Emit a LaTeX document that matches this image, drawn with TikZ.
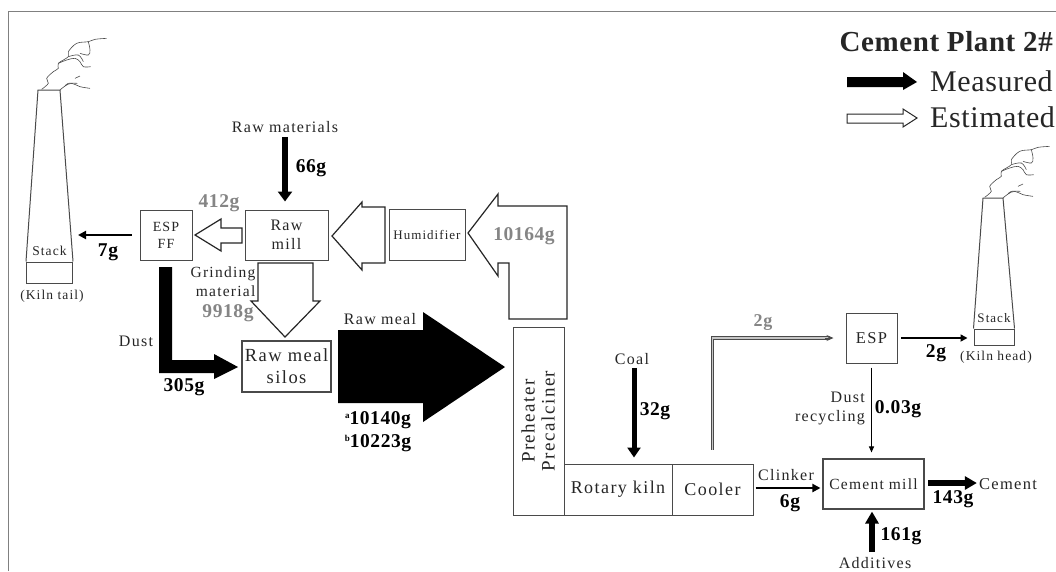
\documentclass[tikz,border=0pt]{standalone}
\usepackage{fontspec}
\usetikzlibrary{arrows.meta}
\setmainfont{Liberation Serif}
\newfontfamily\lblfont[LetterSpace=8]{Liberation Serif}
\newfontfamily\numfont[LetterSpace=3]{Liberation Serif}
\newfontfamily\legfont[LetterSpace=2]{Liberation Serif}
\definecolor{ink}{HTML}{262626}
\definecolor{linegray}{HTML}{4A4A4A}
\definecolor{numgray}{HTML}{858585}
\newcommand{\supmark}[1]{{\fontsize{9}{9}\selectfont\raisebox{6pt}{#1}}}
\tikzset{
  lbl/.style={inner sep=0pt,text=ink,align=center,font=\lblfont\fontsize{#1}{19}\selectfont},
  lbl/.default=16,
  num/.style={inner sep=0pt,text=black,font=\numfont\bfseries\fontsize{19.5}{22}\selectfont},
  grynum/.style={num,text=numgray},
  boxn/.style={draw=linegray,line width=1pt,inner sep=0pt,align=center,text=ink},
  thick arrow/.style={draw=black,line width=#1,-{Triangle[length=10pt,width=14pt]}},
  hollow/.style={draw=ink,fill=white,line width=1.2pt,line join=miter},
  smoke/.style={draw=linegray,line width=.6pt,smooth,tension=.6}
}
\newcommand{\smokepaths}{%
  \draw[smoke] plot coordinates {(-22,-2)(-2,-20)(-7,-35)(13,-55)(28,-65)(28,-80)(58,-100)(58,-115)(83,-140)(118,-145)(138,-152)(173,-155)};
  \draw[smoke] plot coordinates {(33,0)(48,-12)(68,-20)(93,-10)(123,-5)};
  \draw[smoke] plot coordinates {(28,-80)(53,-90)(78,-95)(93,-85)(103,-70)(125,-70)};
  \draw[smoke] plot coordinates {(58,-100)(88,-105)(103,-85)};
  \draw[smoke] plot coordinates {(118,-145)(123,-120)(118,-105)(93,-110)};
  \draw[smoke] plot coordinates {(78,-35)(93,-42)};
  \draw[smoke] plot coordinates {(48,-12)(58,-20)(85,-20)};
}
\begin{document}
\begin{tikzpicture}[x=1pt,y=-1pt]
\useasboundingbox (0,0) rectangle (1056,571);
\fill[white] (0,0) rectangle (1056,571);
\draw[gray,line width=.8pt] (8.5,571) -- (8.5,11.5) -- (1056,11.5);

% left stack
\node[boxn,minimum width=46pt,minimum height=21pt] (stackbaseL) at (49.5,272.5) {};
\draw[draw=linegray,line width=1pt] (stackbaseL.north west) -- (38,90) -- (60,90) -- (stackbaseL.north east);
\node[lbl=13.5] (stackL) at (49.5,251) {Stack};
\node[lbl=13.5] (kilntail) at (52,296) {(Kiln tail)};
\begin{scope}[shift={(49,90)},x=.3333pt,y=-.3333pt]\smokepaths\end{scope}

% right stack
\node[boxn,minimum width=40pt,minimum height=16pt] (stackbaseR) at (994,337) {};
\draw[draw=linegray,line width=1pt] (stackbaseR.north west) -- (983,198) -- (1003,198) -- (stackbaseR.north east);
\node[lbl=13] (stackR) at (994,318) {Stack};
\node[lbl=13.5] (kilnhead) at (996,357) {(Kiln head)};
\begin{scope}[shift={(992,198)},x=.3333pt,y=-.3333pt]\smokepaths\end{scope}

% boxes
\node[boxn,minimum width=52pt,minimum height=50pt,font=\lblfont\fontsize{14}{17}\selectfont] (espff) at (166,235) {ESP\\FF};
\node[boxn,minimum width=83pt,minimum height=50pt,font=\lblfont\fontsize{16}{18.5}\selectfont] (rawmill) at (286.5,235) {Raw\\mill};
\node[boxn,minimum width=76pt,minimum height=51pt,font=\lblfont\fontsize{13}{14}\selectfont] (humid) at (427,234.5) {Humidifier};
\node[boxn,line width=1.4pt,minimum width=89pt,minimum height=51pt,font=\lblfont\fontsize{18.5}{22}\selectfont] (silos) at (286.5,366.5) {Raw meal\\silos};
\node[boxn,minimum width=51pt,minimum height=188pt] (preheat) at (538.5,421) {};
\node[rotate=90,inner sep=0pt,align=center,text=ink,font=\lblfont\fontsize{19}{20}\selectfont] (preheattext) at (538,421) {Preheater\\Precalciner};
\node[boxn,minimum width=108pt,minimum height=51pt,font=\lblfont\fontsize{18}{20}\selectfont] (kiln) at (618,489.5) {Rotary kiln};
\node[boxn,minimum width=81pt,minimum height=51pt,font=\lblfont\fontsize{18}{20}\selectfont] (cooler) at (712.5,489.5) {Cooler};
\node[boxn,minimum width=51pt,minimum height=50pt,font=\lblfont\fontsize{16.5}{18}\selectfont] (esp) at (871.5,338) {ESP};
\node[boxn,line width=1.1pt,minimum width=101pt,minimum height=50pt,font=\lblfont\fontsize{15.5}{18}\selectfont] (cemmill) at (873.5,484) {Cement mill};

% text labels
\node[lbl=16] (rawmat) at (285,127) {Raw materials};
\node[lbl=16] (dust) at (136,341) {Dust};
\node[lbl=16] (rawmeal) at (380,319) {Raw meal};
\node[lbl=16] (coal) at (632,359) {Coal};
\node[lbl=16,align=right,anchor=east] (dustrec) at (865,408) {Dust\\recycling};
\node[lbl=16] (clinker) at (786,475) {Clinker};
\node[lbl=16.5] (cement) at (1008,484) {Cement};
\node[lbl=16] (additives) at (875,563) {Additives};
\coordinate (addstart) at (872,552);
\coordinate (cemstart) at (928,483);
\coordinate (rawx) at (285,200);
\coordinate (coalx) at (634,400);

\node[num] (n66) at (311,168) {66g};
\node[num] (n7) at (108,252) {7g};
\node[grynum] (n412) at (219,203) {412g};
\node[num] (n305) at (184,387) {305g};
\node[num] (na) at (378,420) {\supmark{a}10140g};
\node[num] (nb) at (378,443) {\supmark{b}10223g};
\node[num] (n32) at (655,411) {32g};
\node[grynum,font=\numfont\bfseries\fontsize{18}{20}\selectfont] (n2a) at (763,323) {2g};
\node[num] (n2b) at (936,353) {2g};
\node[num] (n003) at (898,409) {0.03g};
\node[num] (n6) at (790,503) {6g};
\node[num] (n143) at (953,499) {143g};
\node[num] (n161) at (901,536) {161g};

% thin and medium arrows
\draw[thick arrow=5.5pt,shorten <=4pt,shorten >=8pt] (rawmat.south -| rawx) -- (rawmill.north -| rawx);
\draw[draw=black,line width=2.6pt,-{Triangle[length=8pt,width=8pt]},shorten <=8pt,shorten >=5pt] (espff.west) -- (espff.west -| stackbaseL.east);
\draw[draw=black,line width=5pt,-{Triangle[length=10pt,width=13pt]},shorten <=3pt,shorten >=6pt] (coal.south -| coalx) -- (kiln.north -| coalx);
\draw[draw=black,line width=1.6pt,-{Triangle[length=7pt,width=7pt]},shorten <=3.5pt,shorten >=6pt] (esp.east) -- (esp.east -| stackbaseR.west);
\draw[draw=black,line width=1pt,-{Triangle[length=6pt,width=5pt]},shorten <=4pt,shorten >=6pt] (esp.south) -- (esp.south |- cemmill.north);
\draw[draw=black,line width=2.2pt,-{Triangle[length=8pt,width=8pt]},shorten <=2pt,shorten >=2pt] (cooler.east) ++(0,-1.5) -- (cemmill.west |- 0,488);
\draw[draw=black,line width=6pt,-{Triangle[length=12pt,width=13pt]},shorten >=2pt] (cemstart) -- (cemstart -| cement.west);
\draw[draw=black,line width=6.5pt,-{Triangle[length=12pt,width=13pt]},shorten >=2pt] (addstart) -- (cemmill.south -| addstart);
% 2g double
\draw[draw=linegray,line width=1.2pt,double=gray!45,double distance=1.4pt,shorten <=14pt,shorten >=16pt] (cooler.north) |- (esp.west);
\draw[draw=linegray,line width=1pt,-{Stealth[length=7pt,width=6pt,open,fill=white]},shorten >=12pt] (825,338) -- (esp.west);

% fat hollow arrows
\draw[hollow] (195,235) -- (221,219) -- (221,228) -- (242,228) -- (242,243) -- (221,243) -- (221,251) -- cycle;
\draw[hollow] (332,236) -- (362,202) -- (362,207) -- (385,207) -- (385,263) -- (362,263) -- (362,270) -- cycle;
\draw[hollow] (468,233) -- (498,194) -- (498,206) -- (567,206) -- (567,319) -- (509,319) -- (509,263) -- (498,263) -- (498,276) -- cycle;
\draw[hollow] (285,337) -- (251,301) -- (258,301) -- (258,263) -- (313,263) -- (313,301) -- (320,301) -- cycle;
% labels lying on the hollow arrows
\node[grynum] (n10164) at (524,236) {10164g};
\node[lbl=15.5,align=right] (grinding) at (223,282) {Grinding\\material};
\node[grynum] (n9918) at (228,313) {9918g};

% fat solid arrows
\fill[black] (159,267) -- (172,267) -- (172,360) -- (214,360) -- (214,354) -- (238,367) -- (214,379) -- (214,373) -- (159,373) -- cycle;
\fill[black] (338,330) -- (423,330) -- (423,312) -- (505,367) -- (423,422) -- (423,403) -- (338,403) -- cycle;

% legend
\node[anchor=east,inner sep=0pt,font=\legfont\bfseries\fontsize{29}{30}\selectfont,text=ink] (title) at (1053,42) {Cement Plant 2\#};
\node[anchor=west,inner sep=0pt,font=\legfont\fontsize{30}{30}\selectfont,text=ink] (measured) at (930,81) {Measured};
\node[anchor=west,inner sep=0pt,font=\legfont\fontsize{30}{30}\selectfont,text=ink] (estimated) at (930,117) {Estimated};
\fill[black] (847,77) -- (903,77) -- (903,72) -- (917,82) -- (903,90) -- (903,87) -- (847,87) -- cycle;
\draw[hollow,line width=1pt] (847,114) -- (903,114) -- (903,109) -- (917,118) -- (903,127) -- (903,123) -- (847,123) -- cycle;
\end{tikzpicture}
\end{document}
